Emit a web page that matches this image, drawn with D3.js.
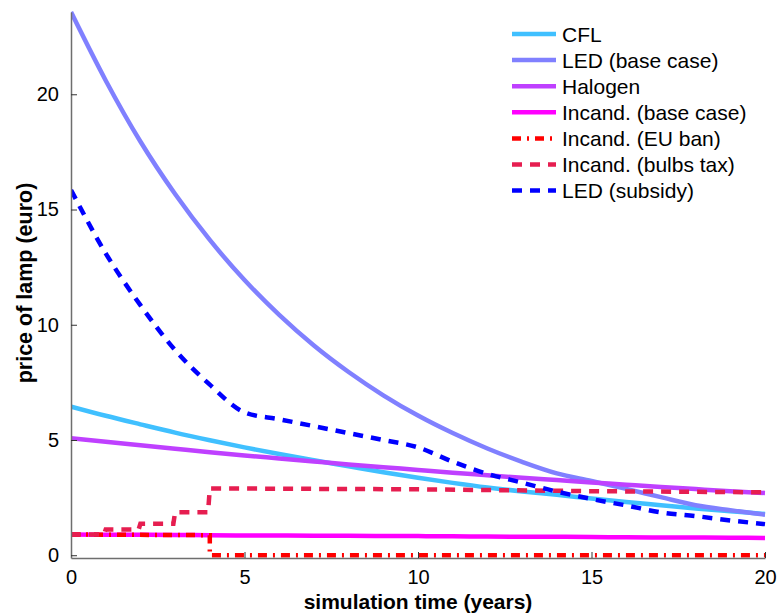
<!DOCTYPE html>
<html>
<head>
<meta charset="utf-8">
<script src="https://cdnjs.cloudflare.com/ajax/libs/d3/7.8.5/d3.min.js"></script>
<style>
  body { margin: 0; background: #fff; }
  svg { font-family: "Liberation Sans", Arial, sans-serif; }
</style>
</head>
<body>
<div id="chart"></div>
<script>
//yearly values (years 0..20)
var years = d3.range(0, 21);
var cfl = [6.45, 6.05, 5.68, 5.32, 4.99, 4.68, 4.39, 4.12, 3.86, 3.6, 3.36, 3.14, 2.94, 2.77, 2.62, 2.46, 2.31, 2.17, 2.03, 1.91, 1.79];
var ledBase = [23.57, 20.6, 17.95, 15.67, 13.68, 11.94, 10.43, 9.1, 7.95, 6.94, 6.06, 5.3, 4.63, 4.05, 3.55, 3.22, 2.88, 2.52, 2.17, 1.95, 1.76];
var halogen = [5.08, 4.92, 4.77, 4.62, 4.47, 4.33, 4.2, 4.07, 3.94, 3.82, 3.7, 3.58, 3.47, 3.36, 3.26, 3.16, 3.06, 2.96, 2.87, 2.78, 2.7];
var incandBase = [0.9, 0.89, 0.89, 0.88, 0.87, 0.86, 0.86, 0.85, 0.84, 0.83, 0.83, 0.82, 0.81, 0.8, 0.8, 0.79, 0.78, 0.77, 0.77, 0.76, 0.75];
var ledSubsidy = [15.85, 13.1, 10.85, 8.9, 7.4, 6.2, 5.9, 5.6, 5.3, 5.0, 4.68, 4.06, 3.53, 3.15, 2.76, 2.44, 2.16, 1.86, 1.7, 1.51, 1.35];

//step series as [year, price] pairs
var euBan = [[0, 0.9], [4, 0.87], [4, 0], [20, 0]];
var bulbsTax = [[0, 0.9], [0.95, 0.9], [1, 1.12], [1.95, 1.12], [2, 1.37], [2.95, 1.37], [3, 1.86], [3.95, 1.86], [4, 2.9], [10, 2.86], [15, 2.78], [20, 2.73]];

var xTicks = [0, 5, 10, 15, 20];
var yTicks = [0, 5, 10, 15, 20];

var seriesNames = ["CFL", "LED (base case)", "Halogen", "Incand. (base case)", "Incand. (EU ban)", "Incand. (bulbs tax)", "LED (subsidy)"];

function pairs(vals) {
    return years.map(function(t, i) { return [t, vals[i]]; });
}

var series = [
    { name: seriesNames[0], data: pairs(cfl), color: "#40c0ff", dash: null, smooth: true },
    { name: seriesNames[1], data: pairs(ledBase), color: "#8080ff", dash: null, smooth: true },
    { name: seriesNames[2], data: pairs(halogen), color: "#bf40ff", dash: null, smooth: true },
    { name: seriesNames[3], data: pairs(incandBase), color: "#ff00ff", dash: null, smooth: true },
    { name: seriesNames[4], data: euBan, color: "#ff0000", dash: "9,6,2,6", smooth: false },
    { name: seriesNames[5], data: bulbsTax, color: "#e61e50", dash: "10,8", smooth: false },
    { name: seriesNames[6], data: pairs(ledSubsidy), color: "#0000ff", dash: "10,8", smooth: true }
];

var svgWidth = 778;
var svgHeight = 614;

var svg = d3.select("#chart")
    .append("svg")
    .attr("width", svgWidth)
    .attr("height", svgHeight);

//scales, ranges match the plot box of the picture
var xScale = d3.scaleLinear()
    .domain([0, 20])
    .range([71, 765]);

var yScale = d3.scaleLinear()
    .domain([-0.12, 23.57])
    .range([558, 12]);

//lines
var smoothLine = d3.line()
    .x(d => xScale(d[0]))
    .y(d => yScale(d[1]))
    .curve(d3.curveMonotoneX);

var straightLine = d3.line()
    .x(d => xScale(d[0]))
    .y(d => yScale(d[1]));

svg.append("clipPath")
    .attr("id", "plotClip")
    .append("rect")
    .attr("x", 71)
    .attr("y", 10)
    .attr("width", 697)
    .attr("height", 550);

var linesGroup = svg.append("g")
    .attr("clip-path", "url(#plotClip)");

series.forEach(function(s) {
    linesGroup.append("path")
        .datum(s.data)
        .attr("d", s.smooth ? smoothLine : straightLine)
        .attr("fill", "none")
        .attr("stroke", s.color)
        .attr("stroke-width", 4.5)
        .attr("stroke-dasharray", s.dash);
});

//axes, ticks point inward like matlab
var bottomAxis = d3.axisBottom(xScale)
    .tickValues(xTicks)
    .tickSize(-6)
    .tickPadding(12)
    .tickSizeOuter(0);

var leftAxis = d3.axisLeft(yScale)
    .tickValues(yTicks)
    .tickSize(-6)
    .tickPadding(12)
    .tickSizeOuter(0);

var xAxisG = svg.append("g")
    .attr("transform", "translate(0, 558)")
    .call(bottomAxis);

var yAxisG = svg.append("g")
    .attr("transform", "translate(71, 0)")
    .call(leftAxis);

[xAxisG, yAxisG].forEach(function(g) {
    g.select(".domain").attr("stroke", "#6e6e6e").attr("stroke-width", 1.5);
    g.selectAll(".tick line").attr("stroke", "#333");
    g.selectAll(".tick text")
        .attr("fill", "#000")
        .style("font-size", "20px")
        .style("font-family", "'Liberation Sans', Arial, sans-serif");
});

//axis labels
svg.append("text")
    .attr("x", 418)
    .attr("y", 609)
    .attr("text-anchor", "middle")
    .style("font-size", "21px")
    .style("font-weight", "bold")
    .text("simulation time (years)");

svg.append("text")
    .attr("transform", "translate(32, 283) rotate(-90)")
    .attr("text-anchor", "middle")
    .style("font-size", "21.5px")
    .style("font-weight", "bold")
    .text("price of lamp (euro)");

//legend
var legend = svg.append("g")
    .attr("transform", "translate(512, 34)");

series.forEach(function(s, i) {
    var row = legend.append("g")
        .attr("transform", `translate(0, ${i * 26.1})`);
    row.append("line")
        .attr("x1", 0)
        .attr("x2", 44)
        .attr("stroke", s.color)
        .attr("stroke-width", 4.5)
        .attr("stroke-dasharray", s.dash);
    row.append("text")
        .attr("x", 50)
        .attr("y", 7.5)
        .style("font-size", "21px")
        .text(s.name);
});
</script>
</body>
</html>
